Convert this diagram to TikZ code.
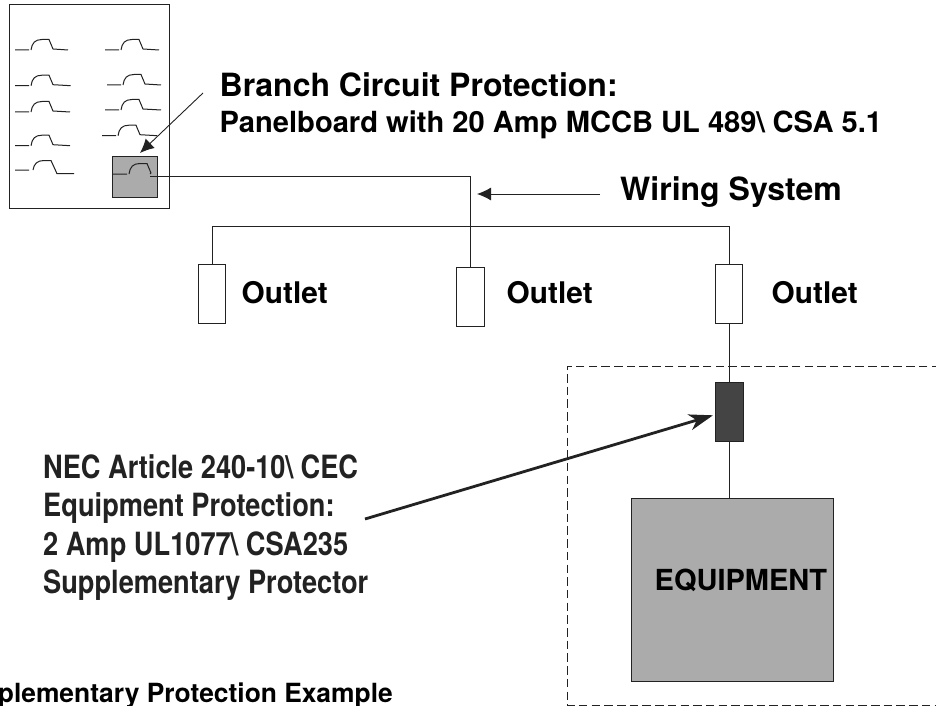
\documentclass[tikz,border=0pt]{standalone}
\usepackage{fontspec}
\setmainfont{TeX Gyre Heros}
\newfontfamily\necfont[FakeStretch=0.85]{TeX Gyre Heros}
\usetikzlibrary{arrows.meta}
\definecolor{ink}{HTML}{222222}
\definecolor{boxgray}{HTML}{ABABAB}
\definecolor{fusegray}{HTML}{444444}
\tikzset{
  x=1pt,y=-1pt,
  wire/.style={draw=ink,line width=1pt},
  boxed/.style={draw=ink,line width=0.9pt,fill=white,rectangle,inner sep=0pt},
  outlet/.style={boxed,minimum width=27.5pt,minimum height=59.4pt},
  breaker/.style={draw=ink,line width=1pt},
  txt/.style={text=black,inner sep=0pt,anchor=base west,align=left},
  nectxt/.style={txt,font=\necfont\fontsize{32}{36}\bfseries\selectfont,text=ink},
  thinarrow/.style={draw=ink,line width=0.9pt,-{Latex[length=14pt,width=13pt]}},
  thickarrow/.style={draw=ink,line width=2.8pt,-{Stealth[length=24pt,width=16pt,inset=7pt]}},
}
\newcommand{\brk}[3]{%
  \draw[breaker,shift={(#1,#2)}] (0,0) -- (14,0) (16,0) .. controls (17,-7) and (20,-10.5) .. (27,-10.5) -- (34,-10.5) -- (38,-1) -- (#3,0);}
\begin{document}
\begin{tikzpicture}
\useasboundingbox (0,0) rectangle (936,706);
\fill[white] (0,0) rectangle (936,706);
\node[boxed,minimum width=160pt,minimum height=203.6pt] (panel) at (89.3,106.5) {};
\node[draw=ink,line width=0.9pt,fill=boxgray,inner sep=0pt,minimum width=45pt,minimum height=41.7pt] (gbox) at (134.8,176.8) {};
\brk{15}{50}{53}
\brk{105}{50}{54}
\brk{15}{85.7}{55.7}
\brk{107}{85}{54}
\brk{15}{112}{55}
\brk{105}{110}{56}
\brk{15}{145.7}{55}
\brk{102}{135.7}{55}
\draw[breaker,shift={(15,170)}] (0,0) -- (14,0) (18,0) .. controls (19,-6) and (22,-9.5) .. (29,-9.5) -- (36,-9.5) -- (42,3.7) -- (59,3.7);
\brk{113}{174}{37}
\coordinate (bk) at (150,176.5);
\coordinate (jn) at (470.5,176.5);
\coordinate (bus1) at (212,226);
\coordinate (bus3) at (729,226);
\coordinate (bus2) at (470.5,226);
\node[outlet] (o1) at (212,294) {};
\node[outlet,minimum height=59pt] (o2) at (470.5,296.5) {};
\node[outlet] (o3) at (729,294) {};
\node[draw=ink,line width=0.9pt,fill=fusegray,inner sep=0pt,minimum width=28pt,minimum height=59pt] (fuse) at (729,412.2) {};
\node[draw=ink,line width=0.9pt,fill=boxgray,inner sep=0pt,minimum width=201.5pt,minimum height=182.7pt] (equip) at (732.4,589.7) {};
\draw[wire] (bk) -- (jn) -- (bus2);
\draw[wire] (bus2) -- (o2.north);
\draw[wire] (o1.north) -- (bus1) -- (bus3) -- (o3.north);
\draw[wire] (o3.south) -- (fuse.north);
\draw[wire] (fuse.south) -- (equip.north -| fuse.south);
\draw[draw=ink,line width=1pt,dash pattern=on 8.5pt off 4.2pt] (940,366) -- (567,366) -- (567,705) -- (940,705);
\coordinate (a1s) at (203,93);
\coordinate (a2s) at (600,194);
\coordinate (a2e) at (477,194);
\coordinate (a3s) at (365,519);
\draw[thinarrow] (a1s) -- (140,153);
\draw[thinarrow] (a2s) -- (a2e);
\draw[thickarrow] (a3s) -- (713,415.3);
\node[txt,font=\fontsize{32}{36}\bfseries] (t1) at (219.5,97) {Branch Circuit Protection:};
\node[txt,font=\fontsize{29.1}{34}\bfseries] (t2) at (219.5,132.5) {Panelboard with 20 Amp MCCB UL 489\textbackslash{} CSA 5.1};
\node[txt,font=\fontsize{32}{36}\bfseries] (t3) at (620,200) {Wiring System};
\node[txt,font=\fontsize{29.8}{34}\bfseries] (l1) at (241.5,303) {Outlet};
\node[txt,font=\fontsize{29.8}{34}\bfseries] (l2) at (506.5,303) {Outlet};
\node[txt,font=\fontsize{29.8}{34}\bfseries] (l3) at (771.5,303) {Outlet};
\node[txt,font=\fontsize{29}{34}\bfseries] (eq) at (654.5,590) {EQUIPMENT};
\node[nectxt] (n1) at (43,478) {NEC Article 240-10\textbackslash{} CEC};
\node[nectxt] (n2) at (43,516) {Equipment Protection:};
\node[nectxt] (n3) at (43,555) {2 Amp UL1077\textbackslash{} CSA235};
\node[nectxt] (n4) at (43,593) {Supplementary Protector};
\node[txt,font=\fontsize{26.4}{31}\bfseries,anchor=base east] (cap) at (393,702) {plementary Protection Example};
\end{tikzpicture}
\end{document}
